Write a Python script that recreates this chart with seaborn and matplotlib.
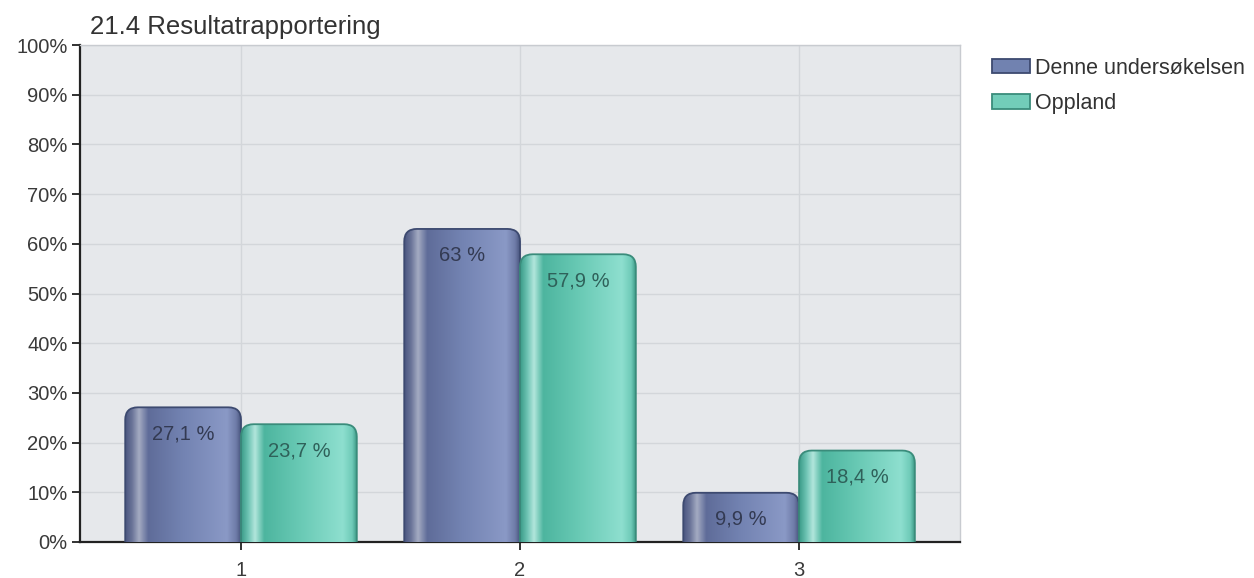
import matplotlib
matplotlib.use("Agg")
import matplotlib.pyplot as plt
import seaborn as sns
import pandas as pd
import numpy as np
from matplotlib.patches import FancyBboxPatch, Patch
from matplotlib.colors import LinearSegmentedColormap

categories = ["1", "2", "3"]
series_names = ["Denne undersøkelsen", "Oppland"]
denne = [27.1, 63.0, 9.9]
oppland = [23.7, 57.9, 18.4]
label_denne = ["27,1 %", "63 %", "9,9 %"]
label_oppland = ["23,7 %", "57,9 %", "18,4 %"]
yticks = [0, 10, 20, 30, 40, 50, 60, 70, 80, 90, 100]

df = pd.DataFrame({
    "cat": categories * 2,
    "series": [series_names[0]] * 3 + [series_names[1]] * 3,
    "value": denne + oppland,
})

sns.set_theme(style="white")
plt.rcParams["font.family"] = ["Liberation Sans", "DejaVu Sans"]

fig = plt.figure(figsize=(12.54, 5.78), dpi=100)
ax = fig.add_axes([0.0638, 0.0623, 0.7018, 0.8597])
ax.set_facecolor("#e6e8eb")

palette = {series_names[0]: "#7182b0", series_names[1]: "#72cdb9"}
sns.barplot(data=df, x="cat", y="value", hue="series", order=categories,
            hue_order=series_names, palette=palette, width=0.83,
            saturation=1, ax=ax, zorder=3, legend=False)

ax.set_ylim(0, 100)
ax.set_xlim(-0.577, 2.577)

edges = ["#3d4a70", "#3a8c7b"]
grad_stops = [
    [(0.0, "#4a5580"), (0.06, "#6a7498"), (0.12, "#a4abc2"), (0.2, "#5f6c99"),
     (0.5, "#7383b2"), (0.88, "#8a99c6"), (0.96, "#6f7ca8"), (1.0, "#4a5680")],
    [(0.0, "#3a9a88"), (0.06, "#6cc2b2"), (0.12, "#b2e6dc"), (0.2, "#4db59f"),
     (0.5, "#68c9b4"), (0.88, "#8edfcf"), (0.96, "#6fcbb8"), (1.0, "#3f9a88")],
]
text_colors = ["#333a52", "#2f615a"]
labels_all = [label_denne, label_oppland]

grad = np.linspace(0, 1, 256).reshape(1, -1)
for i, cont in enumerate(ax.containers):
    cmap = LinearSegmentedColormap.from_list(f"g{i}", grad_stops[i])
    for bar, lab in zip(cont, labels_all[i]):
        x0, w, h = bar.get_x(), bar.get_width(), bar.get_height()
        bar.set_visible(False)
        fb = FancyBboxPatch((x0, -5), w, h + 5,
                            boxstyle="round,pad=0,rounding_size=0.045",
                            mutation_aspect=56, facecolor="none",
                            edgecolor=edges[i], linewidth=1.3, zorder=4)
        ax.add_patch(fb)
        im = ax.imshow(grad, cmap=cmap, aspect="auto",
                       extent=(x0, x0 + w, 0, h), zorder=3.5,
                       interpolation="bilinear")
        im.set_clip_path(fb)
        ax.annotate(lab, (x0 + w / 2, h), xytext=(0, -19),
                    textcoords="offset points", ha="center", va="center",
                    fontsize=14.5, color=text_colors[i], zorder=5)

ax.set_ylim(0, 100)
ax.set_xlim(-0.577, 2.577)
ax.set_yticks(yticks)
ax.set_yticklabels([f"{v}%" for v in yticks], fontsize=14.5, color="#3a3a3a")
ax.set_xticks([0, 1, 2])
ax.set_xticklabels(categories)
ax.tick_params(axis="x", labelsize=14.5, colors="#3a3a3a", pad=8)
ax.tick_params(axis="y", pad=3)
ax.tick_params(axis="both", length=6, width=1.3, direction="out",
               bottom=True, left=True)
ax.tick_params(axis="both", color="#222222")
ax.set_xlabel("")
ax.set_ylabel("")
ax.grid(True, color="#d3d6da", linewidth=1, zorder=0)
ax.set_axisbelow(True)

for s in ["top", "right"]:
    ax.spines[s].set_color("#c8cbd0")
    ax.spines[s].set_linewidth(1)
for s in ["left", "bottom"]:
    ax.spines[s].set_color("#222222")
    ax.spines[s].set_linewidth(1.6)

fig.text(0.0718, 0.953, "21.4 Resultatrapportering", fontsize=18.5,
         color="#333333", ha="left", va="center")

handles = [Patch(facecolor=palette[n], edgecolor=edges[i], linewidth=1.3)
           for i, n in enumerate(series_names)]
fig.legend(handles, series_names, loc="upper left", bbox_to_anchor=(0.7845, 0.915),
           frameon=False, fontsize=15.5, handlelength=1.75, handleheight=0.65,
           handletextpad=0.25, labelspacing=0.66, borderaxespad=0,
           labelcolor="#333333")

fig.savefig("out.png", dpi=100)
